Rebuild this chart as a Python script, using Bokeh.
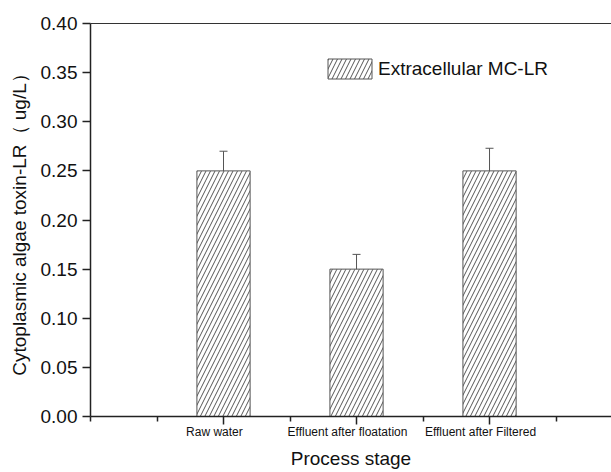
from bokeh.plotting import figure
from bokeh.models import (Range1d, FixedTicker, LinearAxis, Whisker, ColumnDataSource,
                          Legend, LegendItem, TeeHead, PrintfTickFormatter)
from bokeh.embed import file_html
from bokeh.resources import INLINE

# ---- data ----
stages = ["Raw water", "Effluent after floatation", "Effluent after Filtered"]
values = [0.25, 0.15, 0.25]
errors = [0.020, 0.015, 0.023]
series_name = "Extracellular MC-LR"
y_ticks = [0.00, 0.05, 0.10, 0.15, 0.20, 0.25, 0.30, 0.35, 0.40]
y_title = "Cytoplasmic algae toxin-LR\uff08 ug/L\uff09"
x_title = "Process stage"

FONT = "Liberation Sans"
AX = "#222"

xs = [i + 1 for i in range(len(stages))]
bounds = [0] + [i + 0.5 for i in range(len(stages) + 1)]
src = ColumnDataSource(dict(
    x=xs, top=values,
    upper=[v + e for v, e in zip(values, errors)],
    lower=[v - e for v, e in zip(values, errors)],
))

p = figure(width=611, height=472, output_backend="svg", toolbar_location=None,
           x_range=Range1d(0, 3.917), y_range=Range1d(0, 0.40),
           x_axis_location=None, y_axis_location=None,
           min_border_left=90, min_border_right=0, min_border_top=23, min_border_bottom=56)
p.outline_line_color = None
p.grid.visible = False
p.background_fill_color = "white"

# left axis
yax = LinearAxis(ticker=FixedTicker(ticks=y_ticks), formatter=PrintfTickFormatter(format="%.2f"))
yax.axis_line_width = 1.5
yax.axis_line_color = AX
yax.major_tick_out = 8
yax.major_tick_in = 0
yax.major_tick_line_width = 1.5
yax.major_tick_line_color = AX
yax.minor_tick_line_color = None
yax.major_label_text_font = FONT
yax.major_label_text_font_size = "19px"
yax.major_label_text_color = "#111"
yax.major_label_standoff = 5
yax.axis_label = y_title
yax.axis_label_text_font = FONT
yax.axis_label_text_font_size = "19px"
yax.axis_label_text_font_style = "normal"
yax.axis_label_text_color = "#111"
yax.axis_label_standoff = 8
p.add_layout(yax, "left")

# bottom axis A: axis line + long tick marks at the categories
axA = LinearAxis(ticker=FixedTicker(ticks=[], minor_ticks=xs))
axA.axis_line_width = 1.5
axA.axis_line_color = AX
axA.major_tick_out = 0
axA.major_tick_in = 0
axA.minor_tick_out = 8
axA.minor_tick_in = 0
axA.minor_tick_line_width = 1.5
axA.minor_tick_line_color = AX
axA.major_label_standoff = 0
p.add_layout(axA, "below")

# bottom axis B: short tick marks at category boundaries (reaching back up to the frame)
axB = LinearAxis(ticker=FixedTicker(ticks=[], minor_ticks=bounds))
axB.axis_line_color = None
axB.major_tick_out = 0
axB.major_tick_in = 0
axB.minor_tick_out = -3
axB.minor_tick_in = 8
axB.minor_tick_line_width = 1.5
axB.minor_tick_line_color = AX
axB.major_label_standoff = 0
p.add_layout(axB, "below")

# bottom axis C: category labels and title
label_pos = [x - 0.068 for x in xs]
axC = LinearAxis(ticker=FixedTicker(ticks=label_pos),
                 major_label_overrides={lp: s for lp, s in zip(label_pos, stages)})
axC.axis_line_color = None
axC.major_tick_line_color = None
axC.major_tick_out = 0
axC.major_tick_in = 0
axC.minor_tick_line_color = None
axC.minor_tick_out = 0
axC.minor_tick_in = 0
axC.major_label_text_font = FONT
axC.major_label_text_font_size = "12px"
axC.major_label_text_color = "#111"
axC.major_label_standoff = 0
axC.axis_label = x_title
axC.axis_label_text_font = FONT
axC.axis_label_text_font_size = "19px"
axC.axis_label_text_font_style = "normal"
axC.axis_label_text_color = "#111"
axC.axis_label_standoff = 6
p.add_layout(axC, "below")

# top frame line
top_axis = LinearAxis(ticker=FixedTicker(ticks=[]))
top_axis.axis_line_width = 1.2
top_axis.axis_line_color = "#333"
top_axis.major_tick_line_color = None
top_axis.minor_tick_line_color = None
top_axis.major_tick_out = 0
top_axis.major_label_standoff = 0
p.add_layout(top_axis, "above")

bars = p.vbar(x="x", top="top", width=0.4, source=src,
              fill_color="white", line_color="#555", line_width=1,
              hatch_pattern="/", hatch_scale=9, hatch_color="#555", hatch_weight=1)

whisk = Whisker(base="x", upper="upper", lower="lower", source=src,
                line_color="#555", line_width=1,
                upper_head=TeeHead(size=8, line_color="#555", line_width=1),
                lower_head=TeeHead(size=8, line_color="#555", line_width=1))
p.add_layout(whisk)

legend = Legend(items=[LegendItem(label=series_name, renderers=[bars])],
                location=(232, 335), border_line_color=None, background_fill_alpha=0,
                padding=0, margin=0, glyph_width=55, glyph_height=25, label_standoff=1,
                label_text_font=FONT, label_text_font_size="19px", label_text_color="#111")
p.add_layout(legend)

open("out.html", "w").write(file_html(p, INLINE))
